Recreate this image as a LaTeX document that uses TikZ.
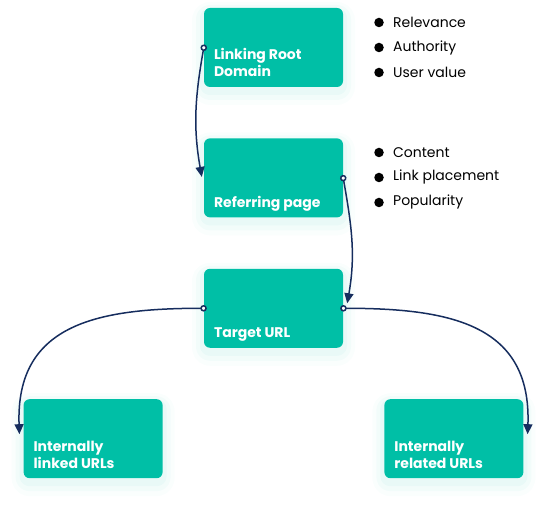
\documentclass[tikz,border=0pt]{standalone}
\usepackage{fontspec}
\setmainfont{Poppins}
\usetikzlibrary{positioning,arrows.meta}
\definecolor{boxteal}{RGB}{0,191,166}
\definecolor{linknavy}{RGB}{22,45,94}
\begin{document}
\begin{tikzpicture}[x=1pt,y=1pt,line join=round,line cap=round]
  \tikzset{box/.style={rectangle,rounded corners=6pt,fill=boxteal,minimum width=139pt,minimum height=79pt,inner sep=0pt,
      preaction={draw=boxteal,draw opacity=0.02,line width=24pt,transform canvas={yshift=-6pt}},
      preaction={draw=boxteal,draw opacity=0.03,line width=16pt,transform canvas={yshift=-5pt}},
      preaction={draw=boxteal,draw opacity=0.04,line width=8pt,transform canvas={yshift=-4pt}}},
    boxlabel/.style={font=\bfseries\fontsize{14}{17}\selectfont,text=white,align=left,inner sep=0pt,text depth=0pt,anchor=south west},
    link/.style={draw=linknavy,line width=1.5pt,shorten <=-3pt,{Circle[length=6.5pt,fill=white]}-{Triangle[length=10pt,width=9pt]}},
    dot/.style={circle,fill=black,minimum size=9.5pt,inner sep=0pt},
    item/.style={font=\fontsize{14}{16}\selectfont,inner sep=0pt,anchor=west}}
  \useasboundingbox (0,0) rectangle (548,518);
  % boxes
  \node[box] (root) at (273.5,470.5) {};
  \node[box,below=51pt of root] (ref) {};
  \node[box,below=51pt of ref] (target) {};
  \node[box,below left=51pt and 41pt of target] (linked) {};
  \node[box,below right=51pt and 41pt of target] (related) {};
  \node[boxlabel] (rootlbl) at ([shift={(10,10)}]root.south west) {Linking Root\\Domain};
  \node[boxlabel] (reflbl) at ([shift={(10,10)}]ref.south west) {Referring page};
  \node[boxlabel] (targetlbl) at ([shift={(10,10)}]target.south west) {Target URL};
  \node[boxlabel] (linkedlbl) at ([shift={(10,10)}]linked.south west) {Internally\\linked URLs};
  \node[boxlabel] (relatedlbl) at ([shift={(10,10)}]related.south west) {Internally\\related URLs};
  % criteria
  \foreach \txt [count=\i] in {Relevance,Authority,User value}{
    \node[dot] (rootdot\i) at (379,{495.5-25*(\i-1)}) {};
    \node[item,right=9pt of rootdot\i] (rootitem\i) {\txt};
  }
  \foreach \txt [count=\i] in {Content,Link placement,Popularity}{
    \node[dot] (refdot\i) at (379,{365.5-25*(\i-1)}) {};
    \node[item,right=9pt of refdot\i] (refitem\i) {\txt};
  }
  % links
  \draw[link] (root.west) to[out=260,in=100] ([shift={(-2,1)}]ref.west);
  \draw[link] (ref.east) to[out=-80,in=80] ([shift={(4,5)}]target.east);
  \draw[link] (target.west) to[out=180,in=92,looseness=1.25] ([shift={(-4,4.5)}]linked.west);
  \draw[link] (target.east) to[out=0,in=88,looseness=1.25] ([shift={(4,4.5)}]related.east);
\end{tikzpicture}
\end{document}
